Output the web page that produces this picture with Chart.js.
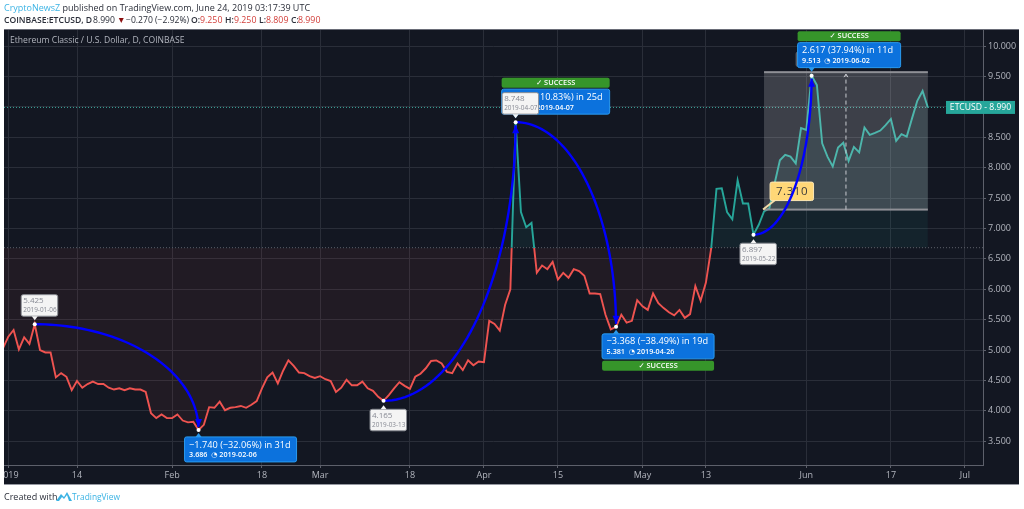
<!DOCTYPE html>
<html>
<head>
<meta charset="utf-8">
<title>ETCUSD</title>
<script src="https://cdn.jsdelivr.net/npm/chart.js@4/dist/chart.umd.min.js"></script>
<style>
  html, body { margin: 0; padding: 0; background: #fff; width: 1024px; height: 509px; overflow: hidden; }
  canvas { position: absolute; left: 0; top: 0; }
  .t { position: absolute; white-space: nowrap; font-family: "Open Sans", sans-serif; font-size: 9px; line-height: 12px; color: #2a2e39; }
  .s { font-size: 8.6px; }
  .b { font-weight: 600; font-size: 8.6px; }
  .r { color: #d2403c; font-size: 8.8px; }
</style>
</head>
<body>
<canvas id="chart" width="1024" height="509"></canvas>
<span class="t" style="left:4px;top:2px"><span style="color:#3bb3e4">CryptoNewsZ</span> published on TradingView.com, June 24, 2019 03:17:39 UTC</span>
<span class="t b" style="left:4px;top:14px">COINBASE:ETCUSD, D</span>
<span class="t s" style="left:93px;top:14px">8.990</span>
<span class="t s" style="left:117px;top:14px;color:#8b0f0f">▼</span>
<span class="t s" style="left:126px;top:14px">−0.270 (−2.92%)</span>
<span class="t b" style="left:191px;top:14px">O:</span><span class="t r" style="left:200px;top:14px">9.250</span>
<span class="t b" style="left:225px;top:14px">H:</span><span class="t r" style="left:234px;top:14px">9.250</span>
<span class="t b" style="left:259px;top:14px">L:</span><span class="t r" style="left:266px;top:14px">8.809</span>
<span class="t b" style="left:291px;top:14px">C:</span><span class="t r" style="left:298px;top:14px">8.990</span>
<span class="t" style="left:4px;top:491px">Created with</span>
<svg style="position:absolute;left:56px;top:491px" width="16" height="11" viewBox="0 0 16 11">
  <path d="M0 10 L5 3 L8 6 L11 1 L16 10 Z" fill="#3bb3e4"/>
  <path d="M3 10 L6 6 L8 8 L11 4 L13 10 Z" fill="#fff"/>
</svg>
<span class="t" style="left:72px;top:491px;font-size:8.4px;color:#3bb3e4">TradingView</span>

<script>
// days counted from 2019-01-01, first close is the last day of 2018
const firstDay = -1;
const closeValues = [
  5.03, 5.22, 5.33, 5.01, 5.21, 5.10, 5.425, 5.00, 4.96, 4.96,
  4.55, 4.62, 4.56, 4.34, 4.49, 4.38, 4.44, 4.48, 4.44, 4.44,
  4.38, 4.35, 4.37, 4.34, 4.37, 4.35, 4.35, 4.31, 3.96, 3.88,
  3.94, 3.88, 3.88, 3.94, 3.84, 3.81, 3.82, 3.686, 3.77, 4.06,
  4.05, 4.15, 4.01, 4.05, 4.06, 4.08, 4.05, 4.10, 4.16, 4.37,
  4.55, 4.63, 4.45, 4.66, 4.83, 4.74, 4.63, 4.62, 4.57, 4.54,
  4.57, 4.52, 4.49, 4.31, 4.38, 4.51, 4.42, 4.42, 4.48, 4.37,
  4.33, 4.23, 4.165, 4.26, 4.37, 4.47, 4.41, 4.36, 4.56, 4.61,
  4.70, 4.82, 4.83, 4.78, 4.64, 4.62, 4.78, 4.67, 4.83, 4.75,
  4.81, 4.80, 5.48, 5.43, 5.32, 5.74, 6.00, 8.748, 7.27, 7.02,
  7.09, 6.27, 6.39, 6.33, 6.45, 6.16, 6.27, 6.19, 6.33, 6.30,
  6.22, 5.93, 5.93, 5.92, 5.58, 5.34, 5.381, 5.58, 5.45, 5.48,
  5.82, 5.72, 5.66, 5.93, 5.77, 5.69, 5.62, 5.57, 5.66, 5.53,
  5.59, 6.05, 5.81, 6.11, 6.67, 7.65, 7.66, 7.27, 7.15, 7.79,
  7.41, 7.41, 6.897, 7.06, 7.28, 7.33, 7.74, 8.12, 8.21, 8.18,
  8.07, 8.65, 8.62, 9.513, 9.36, 8.40, 8.18, 8.02, 8.33, 8.41,
  8.11, 8.34, 8.25, 8.66, 8.54, 8.57, 8.61, 8.70, 8.80, 8.44,
  8.55, 8.51, 8.81, 9.10, 9.26, 8.99
];
const xTickDays = [0, 13, 31, 48, 59, 76, 90, 104, 120, 132, 151, 167, 181];
const xTickLabels = ['2019', '14', 'Feb', '18', 'Mar', '18', 'Apr', '15', 'May', '13', 'Jun', '17', 'Jul'];
const yTickValues = [3.5, 4, 4.5, 5, 5.5, 6, 6.5, 7, 7.5, 8, 8.5, 9, 9.5, 10];

const baselineValue = 6.683;
const lastPrice = 8.99;

const pivotDays = [5, 36, 71, 96, 115, 141, 152];
const pivotValues = [5.425, 3.686, 4.165, 8.748, 5.381, 6.897, 9.513];
const pivotDates = ['2019-01-06', '2019-02-06', '2019-03-13', '2019-04-07', '2019-04-26', '2019-05-22', '2019-06-02'];
const arcPairs = [[0, 1], [2, 3], [3, 4], [5, 6]];

const noteTexts = ['\u22121.740 (\u221232.06%) in 31d', '4.583 (110.83%) in 25d', '\u22123.368 (\u221238.49%) in 19d', '2.617 (37.94%) in 11d'];
const notePivots = [1, 3, 4, 6];
const noteSuccess = [false, true, true, true];

const rangeDays = [143, 174];
const rangeValues = [7.31, 9.57];
const rangeLabel = '7.310';

const UI_FONT = '"Open Sans", "DejaVu Sans", sans-serif';
const RED = '#ef5350';
const TEAL = '#26a69a';

function roundBox(ctx, x, y, w, h, fill, stroke) {
  ctx.beginPath();
  ctx.roundRect(x, y, w, h, 2);
  ctx.fillStyle = fill;
  ctx.fill();
  if (stroke) {
    ctx.strokeStyle = stroke;
    ctx.lineWidth = 1;
    ctx.stroke();
  }
}

function tail(ctx, x, y, dir, fill) {
  ctx.beginPath();
  ctx.moveTo(x - 3, y);
  ctx.lineTo(x + 3, y);
  ctx.lineTo(x, y + dir * 4);
  ctx.closePath();
  ctx.fillStyle = fill;
  ctx.fill();
}

// the chart area has to sit exactly on the panel, no room for tick label overflow
function noOverflow(scale) {
  scale.paddingLeft = 0;
  scale.paddingRight = 0;
  scale.paddingTop = 0;
  scale.paddingBottom = 0;
}

const panelPlugin = {
  id: 'panel',
  beforeDraw(chart) {
    const ctx = chart.ctx;
    ctx.save();
    ctx.fillStyle = '#131722';
    ctx.fillRect(4, 29, 1015, 455);
    ctx.restore();
  },
  afterDraw(chart) {
    const ctx = chart.ctx;
    const xs = chart.scales.x;
    const ys = chart.scales.y;
    const area = chart.chartArea;
    const px = pivotDays.map(d => xs.getPixelForValue(d));
    const py = pivotValues.map(v => ys.getPixelForValue(v));

    ctx.save();

    // white margin hides the cut off part of the first tick label
    ctx.fillStyle = '#fff';
    ctx.fillRect(0, 29, 4, 456);
    ctx.fillStyle = '#6a6d78';
    ctx.fillRect(4, 29, 1015, 1);
    ctx.fillStyle = '#9598a1';
    ctx.fillRect(4, 484, 1015, 1);

    // title
    ctx.font = '8.6px ' + UI_FONT;
    ctx.fillStyle = '#b2b5be';
    ctx.textAlign = 'left';
    ctx.textBaseline = 'middle';
    ctx.fillText('Ethereum Classic / U.S. Dollar, D, COINBASE', 10, 41);

    // baseline and last price lines
    ctx.lineWidth = 1;
    ctx.setLineDash([1, 2]);
    ctx.strokeStyle = '#5d606b';
    const yBase = ys.getPixelForValue(baselineValue);
    ctx.beginPath();
    ctx.moveTo(area.left, yBase);
    ctx.lineTo(area.right, yBase);
    ctx.stroke();
    ctx.strokeStyle = '#3aa79c';
    const yLast = ys.getPixelForValue(lastPrice);
    ctx.beginPath();
    ctx.moveTo(area.left, yLast);
    ctx.lineTo(area.right, yLast);
    ctx.stroke();
    ctx.setLineDash([]);

    // measured range
    const rx0 = xs.getPixelForValue(rangeDays[0]);
    const rx1 = xs.getPixelForValue(rangeDays[1]);
    const ry0 = ys.getPixelForValue(rangeValues[0]);
    const ry1 = ys.getPixelForValue(rangeValues[1]);
    ctx.fillStyle = 'rgba(255,255,255,0.18)';
    ctx.fillRect(rx0, ry1, rx1 - rx0, ry0 - ry1);
    ctx.fillStyle = '#8f9096';
    ctx.fillRect(rx0, ry1 - 1, rx1 - rx0, 2);
    ctx.fillRect(rx0, ry0 - 1, rx1 - rx0, 2);
    const rxm = (rx0 + rx1) / 2;
    ctx.strokeStyle = '#c9cad0';
    ctx.setLineDash([4, 3]);
    ctx.beginPath();
    ctx.moveTo(rxm, ry0);
    ctx.lineTo(rxm, ry1 + 2);
    ctx.stroke();
    ctx.setLineDash([]);
    ctx.beginPath();
    ctx.moveTo(rxm - 2, ry1 + 5);
    ctx.lineTo(rxm, ry1 + 2);
    ctx.lineTo(rxm + 2, ry1 + 5);
    ctx.stroke();

    // yellow price label
    ctx.strokeStyle = '#f3dca8';
    ctx.lineWidth = 2;
    ctx.beginPath();
    ctx.moveTo(rx0 - 1, ry0);
    ctx.lineTo(rx0 + 13, ry0 - 11);
    ctx.stroke();
    roundBox(ctx, rx0 + 6, ry0 - 27.5, 43.5, 18.5, '#ffd777', '#fbe6b4');
    ctx.font = '11.5px ' + UI_FONT;
    ctx.fillStyle = '#3a3a3a';
    ctx.textAlign = 'center';
    ctx.letterSpacing = '0.6px';
    ctx.fillText(rangeLabel, rx0 + 28, ry0 - 18);
    ctx.letterSpacing = '0px';

    // blue arcs, a quarter of an ellipse between two pivots
    ctx.strokeStyle = '#0000ff';
    ctx.fillStyle = '#0000ff';
    ctx.lineWidth = 2.4;
    arcPairs.forEach(([a, b]) => {
      const dx = px[b] - px[a];
      const dy = py[b] - py[a];
      const dir = Math.sign(dy);
      const endY = py[b] - dir * 3;
      ctx.beginPath();
      for (let i = 0; i <= 48; i++) {
        const t = (i / 48) * Math.PI / 2;
        const x = px[a] + dx * Math.sin(t);
        const y = py[b] - dy * Math.cos(t);
        if (i === 0) ctx.moveTo(x, y); else ctx.lineTo(x, Math.abs(y - py[a]) > Math.abs(endY - py[a]) ? endY : y);
      }
      ctx.stroke();
      ctx.beginPath();
      ctx.moveTo(px[b], endY);
      ctx.lineTo(px[b] - 3.5, endY - dir * 8);
      ctx.lineTo(px[b] + 3.5, endY - dir * 8);
      ctx.closePath();
      ctx.fill();
    });

    // pivot label hidden behind the last note
    roundBox(ctx, px[6] - 16, py[6] - 24, 20, 15, '#5b5e68');

    // blue notes
    noteTexts.forEach((text, i) => {
      const p = notePivots[i];
      const above = p === 3 || p === 6;
      const w = p === 3 ? 108 : p === 6 ? 103 : 112;
      const bx = px[p] - 14;
      const by = above ? py[p] - 33 : py[p] + 7;
      roundBox(ctx, bx, by, w, 25, '#0c72dd', '#2a9bf0');
      tail(ctx, px[p], above ? by + 25 : by, above ? 1 : -1, '#2a9bf0');
      ctx.textAlign = 'left';
      ctx.fillStyle = '#fff';
      ctx.font = '9.2px ' + UI_FONT;
      ctx.fillText(text, bx + 4.5, by + 8);
      ctx.font = '600 7.2px ' + UI_FONT;
      ctx.fillText(pivotValues[p].toFixed(3) + '  \u25D4 ' + pivotDates[p], bx + 4.5, by + 18.5);
      if (noteSuccess[i]) {
        const gy = above ? by - 11.5 : by + 27;
        roundBox(ctx, bx, gy, w, 10, '#36952a');
        ctx.font = '600 7.4px ' + UI_FONT;
        ctx.textAlign = 'center';
        ctx.fillStyle = '#fff';
        ctx.fillText('\u2713 SUCCESS', bx + w / 2, gy + 5.2);
      }
    });

    // white pivot labels
    [0, 2, 3, 5].forEach(p => {
      const below = p === 2 || p === 5;
      const bx = px[p] - 13.5;
      const by = below ? py[p] + 8.5 : py[p] - 29.5;
      roundBox(ctx, bx, by, 36.5, 21.5, '#f4f4f4', '#8a8d94');
      tail(ctx, px[p], below ? by : by + 21.5, below ? -1 : 1, '#f4f4f4');
      ctx.textAlign = 'left';
      ctx.fillStyle = '#868993';
      ctx.font = '8px ' + UI_FONT;
      ctx.fillText(pivotValues[p].toFixed(3), bx + 2, by + 6.5);
      ctx.font = '6.4px ' + UI_FONT;
      ctx.fillText(pivotDates[p], bx + 2, by + 15.5);
    });

    // pivot markers
    ctx.fillStyle = '#fff';
    px.forEach((x, i) => {
      ctx.beginPath();
      ctx.arc(x, py[i], 2, 0, Math.PI * 2);
      ctx.fill();
    });

    // last price tag on the axis
    ctx.fillStyle = '#26a69a';
    ctx.fillRect(946, yLast - 6.5, 69, 13);
    ctx.fillStyle = '#fff';
    ctx.font = '8.6px ' + UI_FONT;
    ctx.textAlign = 'center';
    ctx.fillText('ETCUSD - ' + lastPrice.toFixed(3), 980.5, yLast + 0.5);

    ctx.restore();
  }
};

function baselineStroke(context) {
  const chart = context.chart;
  const area = chart.chartArea;
  if (!area) return RED;
  const yBase = chart.scales.y.getPixelForValue(baselineValue);
  const stop = (yBase - area.top) / (area.bottom - area.top);
  const grad = chart.ctx.createLinearGradient(0, area.top, 0, area.bottom);
  grad.addColorStop(0, TEAL);
  grad.addColorStop(stop, TEAL);
  grad.addColorStop(stop, RED);
  grad.addColorStop(1, RED);
  return grad;
}

new Chart(document.getElementById('chart').getContext('2d'), {
  type: 'line',
  plugins: [panelPlugin],
  data: {
    datasets: [{
      label: 'ETCUSD',
      data: closeValues.map((v, i) => ({ x: firstDay + i, y: v })),
      borderColor: baselineStroke,
      borderWidth: 1.9,
      pointRadius: 0,
      tension: 0,
      fill: {
        target: { value: baselineValue },
        above: 'rgba(38,166,154,0.09)',
        below: 'rgba(239,83,80,0.065)',
      },
    }],
  },
  options: {
    responsive: false,
    animation: false,
    layout: { padding: { left: 4, top: 29, right: 5, bottom: 25 } },
    plugins: { legend: { display: false }, tooltip: { enabled: false } },
    scales: {
      x: {
        type: 'linear',
        min: -0.814,
        max: 184.43,
        afterBuildTicks: scale => { scale.ticks = xTickDays.map(v => ({ value: v })); },
        afterFit: scale => { scale.height = 19; noOverflow(scale); },
        grid: { color: '#2a2e39', lineWidth: 1, tickColor: '#5d606b', tickLength: 3 },
        border: { color: '#5d606b' },
        ticks: {
          autoSkip: false,
          maxRotation: 0,
          padding: 2,
          color: '#b2b5be',
          font: { family: UI_FONT, size: 9 },
          callback: value => xTickLabels[xTickDays.indexOf(value)],
        },
      },
      y: {
        position: 'right',
        min: 3.109,
        max: 10.28,
        afterBuildTicks: scale => { scale.ticks = yTickValues.map(v => ({ value: v })); },
        afterFit: scale => { scale.width = 36; noOverflow(scale); },
        grid: { color: '#2a2e39', lineWidth: 1, tickColor: '#5d606b', tickLength: 3 },
        border: { color: '#5d606b' },
        ticks: {
          padding: 2,
          color: '#b2b5be',
          font: { family: UI_FONT, size: 9 },
          callback: value => value.toFixed(3),
        },
      },
    },
  },
});
</script>
</body>
</html>
